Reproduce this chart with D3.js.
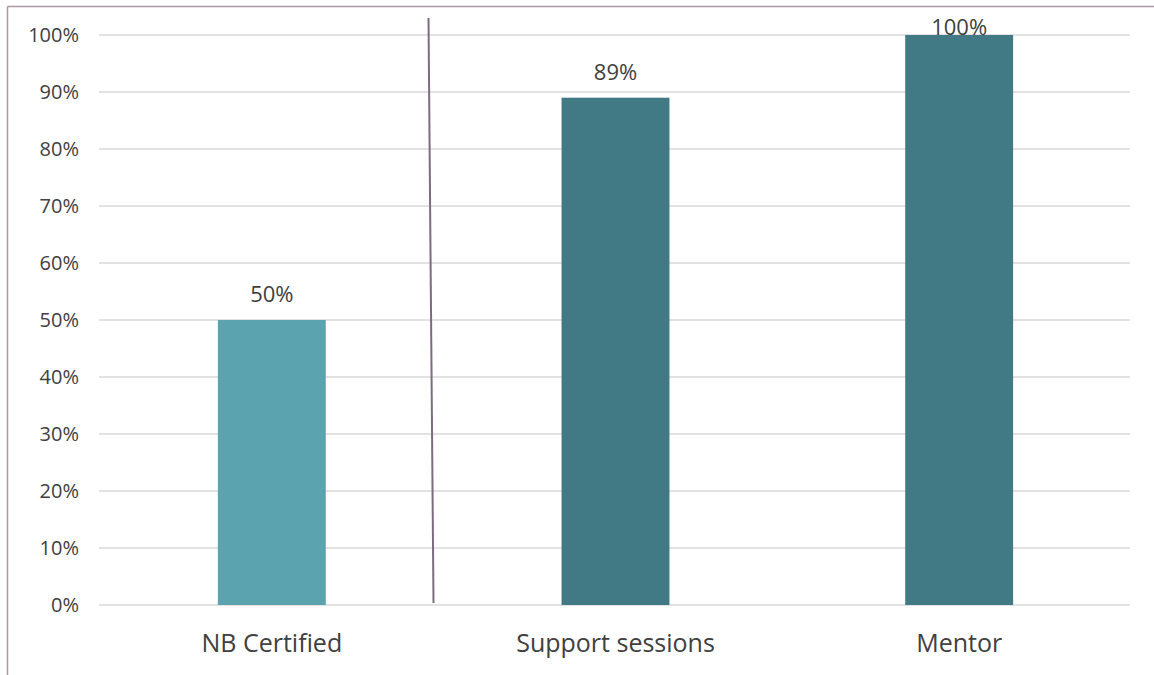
<!DOCTYPE html>
<html>
<head>
<meta charset="utf-8">
<script src="https://cdn.jsdelivr.net/npm/d3@7"></script>
<style>
  html, body { margin: 0; padding: 0; background: #ffffff; }
  svg { display: block; }
  text { font-family: "Open Sans", sans-serif; fill: #404040; }
</style>
</head>
<body>
<svg id="chart" width="1154" height="675"></svg>
<script>
// Share of participants by support type
const categories = ["NB Certified", "Support sessions", "Mentor"];
const values = [50, 89, 100];
const barColors = ["#5ba3ae", "#417a84", "#417a84"];
const yTicks = [0, 10, 20, 30, 40, 50, 60, 70, 80, 90, 100];

const W = 1154, H = 675;
const plot = { left: 100, right: 1131, top: 35, bottom: 605 };

const svg = d3.select("#chart");

// Frame lines along the top and left edges
svg.append("line")
  .attr("x1", 7.5).attr("x2", W).attr("y1", 6.5).attr("y2", 6.5)
  .attr("stroke", "#a898a8").attr("stroke-width", 1.5);
svg.append("line")
  .attr("x1", 7.5).attr("x2", 7.5).attr("y1", 6.5).attr("y2", H)
  .attr("stroke", "#a898a8").attr("stroke-width", 1.5);

const x = d3.scaleBand()
  .domain(categories)
  .range([plot.left, plot.right])
  .paddingInner(0.686)
  .paddingOuter(0.343);

const y = d3.scaleLinear()
  .domain([0, 100])
  .range([plot.bottom, plot.top]);

// Horizontal gridlines
svg.append("g")
  .selectAll("line")
  .data(yTicks)
  .join("line")
  .attr("x1", plot.left - 1).attr("x2", plot.right - 1)
  .attr("y1", d => y(d)).attr("y2", d => y(d))
  .attr("stroke", "#d9d9d9").attr("stroke-width", 1.5);

// Y axis tick labels
const yAxis = d3.axisLeft(y).tickValues(yTicks).tickFormat(d => d + "%").tickSize(0).tickPadding(0);
const gy = svg.append("g").attr("transform", `translate(79,0)`).call(yAxis);
gy.select(".domain").remove();
gy.selectAll("text")
  .style("font-family", "'Open Sans', sans-serif")
  .style("font-size", "20px")
  .attr("fill", "#595959");

// Bars
svg.append("g")
  .selectAll("rect")
  .data(values)
  .join("rect")
  .attr("x", (d, i) => x(categories[i]))
  .attr("width", x.bandwidth())
  .attr("y", d => y(d))
  .attr("height", d => y(0) - y(d))
  .attr("fill", (d, i) => barColors[i]);

// Value labels above bars, kept inside the plot area
svg.append("g")
  .selectAll("text")
  .data(values)
  .join("text")
  .attr("x", (d, i) => x(categories[i]) + x.bandwidth() / 2)
  .attr("y", d => Math.max(y(d) - 18, plot.top))
  .attr("text-anchor", "middle")
  .style("font-size", "22px")
  .text(d => d + "%");

// Category labels
const xAxis = d3.axisBottom(x).tickSize(0).tickPadding(0);
const gx = svg.append("g").attr("transform", `translate(0,652)`).call(xAxis);
gx.select(".domain").remove();
gx.selectAll("text")
  .attr("dy", 0)
  .style("font-family", "'Open Sans', sans-serif")
  .style("font-size", "25px")
  .attr("fill", "#404040");

// Divider between the first and the other categories
svg.append("line")
  .attr("x1", 428.5).attr("y1", 18)
  .attr("x2", 433.5).attr("y2", y(0) - 2)
  .attr("stroke", "#7d6b80").attr("stroke-width", 2);
</script>
</body>
</html>
